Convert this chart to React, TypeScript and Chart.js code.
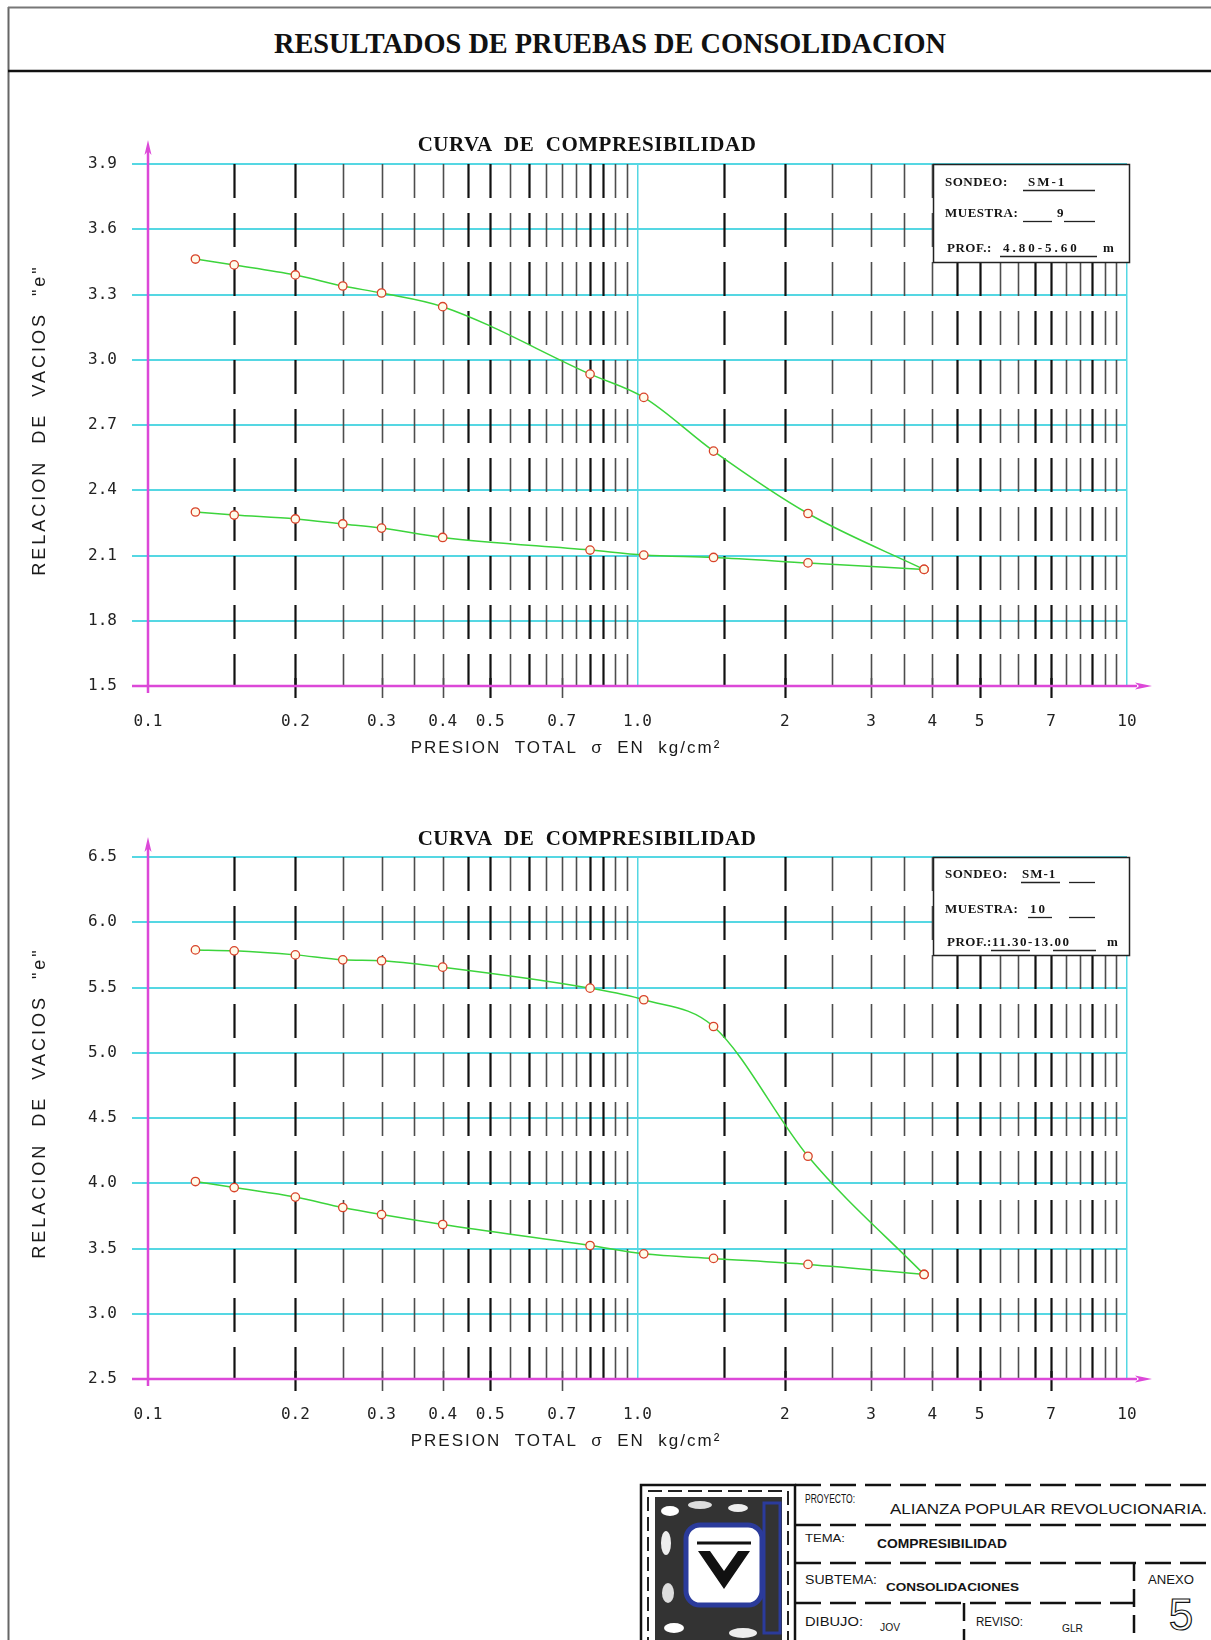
import React, { useEffect, useRef } from 'react';
import { Chart, registerables } from 'chart.js';

Chart.register(...registerables);

// ---------------- DATA ----------------
const pressures = [0.125, 0.15, 0.2, 0.25, 0.3, 0.4, 0.8, 1.03, 1.43, 2.23, 3.85];

// Muestra 9 (SM-1, 4.80-5.60 m)
const m9Loading = [3.463, 3.436, 3.39, 3.339, 3.307, 3.244, 2.934, 2.827, 2.58, 2.293, 2.036];
const m9Rebound = [2.3, 2.286, 2.268, 2.245, 2.226, 2.183, 2.125, 2.102, 2.091, 2.066, 2.036];

// Muestra 10 (SM-1, 11.30-13.00 m)
const m10Loading = [5.788, 5.781, 5.75, 5.712, 5.705, 5.656, 5.495, 5.406, 5.201, 4.207, 3.301];
const m10Rebound = [4.013, 3.967, 3.894, 3.814, 3.76, 3.684, 3.523, 3.459, 3.424, 3.378, 3.301];

const xTickValues = [0.1, 0.2, 0.3, 0.4, 0.5, 0.7, 1, 2, 3, 4, 5, 7, 10];
const xTickLabels = ['0.1', '0.2', '0.3', '0.4', '0.5', '0.7', '1.0', '2', '3', '4', '5', '7', '10'];

const topYTicks = [1.5, 1.8, 2.1, 2.4, 2.7, 3.0, 3.3, 3.6, 3.9];
const topYLabels = ['1.5', '1.8', '2.1', '2.4', '2.7', '3.0', '3.3', '3.6', '3.9'];
const bottomYTicks = [2.5, 3.0, 3.5, 4.0, 4.5, 5.0, 5.5, 6.0, 6.5];
const bottomYLabels = ['2.5', '3.0', '3.5', '4.0', '4.5', '5.0', '5.5', '6.0', '6.5'];

const gridPressures = [
  0.15, 0.2, 0.25, 0.3, 0.35, 0.4, 0.45, 0.5, 0.55, 0.6, 0.65, 0.7, 0.75, 0.8, 0.85, 0.9, 0.95,
  1.5, 2, 2.5, 3, 3.5, 4, 4.5, 5, 5.5, 6, 6.5, 7, 7.5, 8, 8.5, 9, 9.5,
];
const heavyGridPressures = [0.15, 0.2, 0.45, 0.5, 0.6, 0.8, 0.85, 1.5, 2, 4.5, 5, 6.5, 7, 8.5];

const pageTitle = 'RESULTADOS DE PRUEBAS DE CONSOLIDACION';
const chartTitle = 'CURVA  DE  COMPRESIBILIDAD';
const xTitle = 'PRESION  TOTAL  \u03c3  EN  kg/cm\u00b2';
const yTitle = 'RELACION  DE  VACIOS  "e"';

// ---------------- STYLE ----------------
const CYAN = '#55d7e3';
const MAGENTA = '#dc48d8';
const GREEN = '#3cd43c';
const MARKER = '#d8432a';

type Seg = { t: string; x: number; spacing?: number };
type BoxRow = { y: number; segs: Seg[]; lines: number[][] };

const topBoxRows: BoxRow[] = [
  { y: 19, segs: [{ t: 'SONDEO:', x: 12 }, { t: 'SM-1', x: 95, spacing: 2 }], lines: [[90, 162]] },
  { y: 50, segs: [{ t: 'MUESTRA:', x: 12 }, { t: '9', x: 124 }], lines: [[90, 119], [131, 162]] },
  { y: 85, segs: [{ t: 'PROF.:', x: 14 }, { t: '4.80-5.60', x: 70, spacing: 3 }, { t: 'm', x: 170 }], lines: [[67, 164]] },
];
const bottomBoxRows: BoxRow[] = [
  { y: 18, segs: [{ t: 'SONDEO:', x: 12 }, { t: 'SM-1', x: 89, spacing: 1 }], lines: [[88, 127], [136, 162]] },
  { y: 53, segs: [{ t: 'MUESTRA:', x: 12 }, { t: '10', x: 97, spacing: 2 }], lines: [[95, 119], [136, 162]] },
  { y: 86, segs: [{ t: 'PROF.:', x: 14 }, { t: '11.30-13.00', x: 59, spacing: 1.5 }, { t: 'm', x: 174 }], lines: [[58, 97], [120, 163]] },
];

type Spec = {
  loading: number[];
  rebound: number[];
  yTicks: number[];
  yLabels: string[];
  yTitleOffset: number;
  titleOffset: number;
  boxRows: BoxRow[];
  boxHeight: number;
  arrowTop: number;
};

const topSpec: Spec = {
  loading: m9Loading, rebound: m9Rebound, yTicks: topYTicks, yLabels: topYLabels,
  yTitleOffset: 256, titleOffset: 18, boxRows: topBoxRows, boxHeight: 98, arrowTop: 24,
};
const bottomSpec: Spec = {
  loading: m10Loading, rebound: m10Rebound, yTicks: bottomYTicks, yLabels: bottomYLabels,
  yTitleOffset: 246, titleOffset: 17, boxRows: bottomBoxRows, boxHeight: 98, arrowTop: 20,
};

function makeOverlay(spec: Spec) {
  return {
    id: 'drawingOverlay',
    beforeDatasetsDraw(chart: any) {
      const { ctx, chartArea: a } = chart;
      const x = chart.scales.x;
      ctx.save();
      gridPressures.forEach((v) => {
        const px = Math.round(x.getPixelForValue(v)) + 0.5;
        const heavy = heavyGridPressures.includes(v);
        ctx.strokeStyle = heavy ? '#111' : '#4d4d4d';
        ctx.lineWidth = heavy ? 2.2 : 1.6;
        ctx.setLineDash([34, 15]);
        ctx.beginPath();
        ctx.moveTo(px, a.top);
        ctx.lineTo(px, a.bottom);
        ctx.stroke();
        if (xTickValues.includes(v)) {
          ctx.setLineDash([]);
          ctx.beginPath();
          ctx.moveTo(px, a.bottom - 8);
          ctx.lineTo(px, a.bottom + 12);
          ctx.stroke();
        }
      });
      ctx.restore();
    },
    afterDatasetsDraw(chart: any) {
      const { ctx, chartArea: a } = chart;
      ctx.save();
      ctx.setLineDash([]);
      // magenta axes
      ctx.strokeStyle = MAGENTA;
      ctx.fillStyle = MAGENTA;
      ctx.lineWidth = 2.5;
      ctx.beginPath();
      ctx.moveTo(a.left - 16, a.bottom);
      ctx.lineTo(a.right + 10, a.bottom);
      ctx.stroke();
      ctx.beginPath();
      ctx.moveTo(a.right + 25, a.bottom);
      ctx.lineTo(a.right + 8, a.bottom - 3.5);
      ctx.lineTo(a.right + 12, a.bottom);
      ctx.lineTo(a.right + 8, a.bottom + 3.5);
      ctx.closePath();
      ctx.fill();
      ctx.beginPath();
      ctx.moveTo(a.left, a.bottom + 7);
      ctx.lineTo(a.left, a.top - spec.arrowTop + 10);
      ctx.stroke();
      ctx.beginPath();
      ctx.moveTo(a.left, a.top - spec.arrowTop);
      ctx.lineTo(a.left - 3.5, a.top - spec.arrowTop + 15);
      ctx.lineTo(a.left, a.top - spec.arrowTop + 11);
      ctx.lineTo(a.left + 3.5, a.top - spec.arrowTop + 15);
      ctx.closePath();
      ctx.fill();

      // info box
      const bw = 196;
      const bh = spec.boxHeight;
      const bx = Math.round(a.right - 194);
      const by = Math.round(a.top);
      ctx.fillStyle = '#fff';
      ctx.fillRect(bx, by, bw, bh);
      ctx.strokeStyle = '#222';
      ctx.lineWidth = 1.5;
      ctx.strokeRect(bx + 0.5, by + 0.5, bw, bh);
      ctx.fillStyle = '#151515';
      ctx.font = 'bold 13px "Liberation Serif"';
      ctx.textAlign = 'left';
      ctx.textBaseline = 'middle';
      spec.boxRows.forEach((row) => {
        row.segs.forEach((s) => {
          (ctx as any).letterSpacing = (s.spacing ?? 0.5) + 'px';
          ctx.fillText(s.t, bx + s.x, by + row.y);
        });
        ctx.lineWidth = 1.3;
        row.lines.forEach(([x1, x2]) => {
          ctx.beginPath();
          ctx.moveTo(bx + x1, by + row.y + 7.5);
          ctx.lineTo(bx + x2, by + row.y + 7.5);
          ctx.stroke();
        });
      });
      (ctx as any).letterSpacing = '0px';
      ctx.restore();
    },
    afterDraw(chart: any) {
      const { ctx, chartArea: a } = chart;
      ctx.save();
      ctx.fillStyle = '#111';
      ctx.textAlign = 'center';
      ctx.textBaseline = 'middle';
      // chart title
      ctx.font = 'bold 21px "Liberation Serif"';
      (ctx as any).letterSpacing = '0.5px';
      ctx.fillText(chartTitle, a.left + 439, a.top - spec.titleOffset);
      // x title
      ctx.font = '17px "Liberation Sans"';
      (ctx as any).letterSpacing = '2px';
      ctx.fillStyle = '#1a1a1a';
      ctx.fillText(xTitle, a.left + 418, a.bottom + 62);
      // y title
      ctx.save();
      ctx.translate(32, a.top + spec.yTitleOffset);
      ctx.rotate(-Math.PI / 2);
      ctx.font = '18px "Liberation Sans"';
      (ctx as any).letterSpacing = '3px';
      ctx.fillText(yTitle, 0, 0);
      ctx.restore();
      (ctx as any).letterSpacing = '0px';
      ctx.restore();
    },
  };
}

function makeConfig(spec: Spec): any {
  const toPoints = (vals: number[]) => pressures.map((p, i) => ({ x: p, y: vals[i] }));
  const lineStyle = {
    borderColor: GREEN,
    borderWidth: 1.5,
    pointRadius: 4.2,
    pointBorderColor: MARKER,
    pointBackgroundColor: '#fffbea',
    pointBorderWidth: 1.3,
    cubicInterpolationMode: 'monotone',
    fill: false,
  };
  const tickFont = { family: '"DejaVu Sans Mono"', size: 16 };
  return {
    type: 'line',
    data: {
      datasets: [
        { label: 'Carga', data: toPoints(spec.loading), ...lineStyle },
        { label: 'Descarga', data: toPoints(spec.rebound), ...lineStyle },
      ],
    },
    options: {
      animation: false,
      responsive: false,
      maintainAspectRatio: false,
      events: [],
      layout: { padding: { top: 44, right: 39, left: 0, bottom: 0 } },
      plugins: {
        legend: { display: false },
        tooltip: { enabled: false },
        title: { display: false },
      },
      scales: {
        x: {
          type: 'logarithmic',
          min: 0.1,
          max: 10,
          afterBuildTicks: (s: any) => {
            s.ticks = xTickValues.map((v) => ({ value: v }));
          },
          afterFit: (s: any) => {
            s.height = 90;
          },
          ticks: {
            autoSkip: false,
            maxRotation: 0,
            minRotation: 0,
            padding: 26,
            color: '#222',
            font: tickFont,
            callback: (_v: any, i: number) => xTickLabels[i],
          },
          grid: {
            drawTicks: false,
            lineWidth: 1.5,
            color: (c: any) =>
              c.tick && (c.tick.value === 1 || c.tick.value === 10) ? CYAN : 'rgba(0,0,0,0)',
          },
          border: { display: false },
        },
        y: {
          type: 'linear',
          min: spec.yTicks[0],
          max: spec.yTicks[spec.yTicks.length - 1],
          afterBuildTicks: (s: any) => {
            s.ticks = spec.yTicks.map((v) => ({ value: v }));
          },
          afterFit: (s: any) => {
            s.width = 140;
          },
          ticks: {
            padding: 15,
            color: '#222',
            font: tickFont,
            callback: (_v: any, i: number) => spec.yLabels[i],
          },
          grid: {
            tickLength: 16,
            lineWidth: 2,
            color: (c: any) => (c.index === 0 ? 'rgba(0,0,0,0)' : CYAN),
          },
          border: { display: false },
        },
      },
    },
    plugins: [makeOverlay(spec)],
  };
}

function TitleBlock() {
  const dash = '26 9';
  return (
    <g>
      {/* logo */}
      <rect x={641} y={1485} width={154} height={170} fill="none" stroke="#111" strokeWidth={2.5} />
      <rect x={648} y={1491} width={140} height={160} fill="none" stroke="#222" strokeWidth={2} strokeDasharray="14 6" />
      <rect x={655} y={1497} width={127} height={150} fill="#333" />
      <ellipse cx={670} cy={1511} rx={9} ry={5} fill="#fff" />
      <ellipse cx={700} cy={1505} rx={12} ry={4} fill="#ddd" />
      <ellipse cx={666} cy={1543} rx={5} ry={12} fill="#eee" />
      <ellipse cx={668} cy={1593} rx={6} ry={10} fill="#ddd" />
      <ellipse cx={674} cy={1628} rx={10} ry={5} fill="#fff" />
      <ellipse cx={743} cy={1633} rx={14} ry={5} fill="#eee" />
      <ellipse cx={738} cy={1508} rx={10} ry={4} fill="#eee" />
      <rect x={686} y={1525} width={76} height={80} rx={14} fill="#fff" stroke="#2b3b9b" strokeWidth={5} />
      <line x1={697} y1={1543} x2={751} y2={1543} stroke="#111" strokeWidth={3} />
      <path d="M698 1551 L724 1589 L750 1551 L738 1551 L724 1571 L710 1551 Z" fill="#111" />
      <rect x={764} y={1503} width={16} height={130} fill="none" stroke="#2b3b9b" strokeWidth={3} />
      {/* grid lines */}
      <line x1={795} y1={1485} x2={1211} y2={1485} stroke="#111" strokeWidth={2.5} strokeDasharray={dash} />
      <line x1={795} y1={1525} x2={1211} y2={1525} stroke="#111" strokeWidth={2.5} strokeDasharray={dash} />
      <line x1={795} y1={1563} x2={1211} y2={1563} stroke="#111" strokeWidth={2.5} strokeDasharray={dash} />
      <line x1={795} y1={1603} x2={1134} y2={1603} stroke="#111" strokeWidth={2.5} strokeDasharray={dash} />
      <line x1={1134} y1={1563} x2={1134} y2={1640} stroke="#111" strokeWidth={2.5} strokeDasharray="18 8" />
      <line x1={964} y1={1603} x2={964} y2={1640} stroke="#111" strokeWidth={2.5} strokeDasharray="18 8" />
      {/* texts */}
      <g fontFamily="Liberation Sans" fill="#151515">
        <text x={805} y={1503} fontSize={12} textLength={50} lengthAdjust="spacingAndGlyphs">PROYECTO:</text>
        <text x={890} y={1514} fontSize={15} textLength={317} lengthAdjust="spacingAndGlyphs">ALIANZA POPULAR REVOLUCIONARIA.</text>
        <text x={805} y={1542} fontSize={11} textLength={40} lengthAdjust="spacingAndGlyphs">TEMA:</text>
        <text x={877} y={1548} fontSize={12} fontWeight="bold" textLength={130} lengthAdjust="spacingAndGlyphs">COMPRESIBILIDAD</text>
        <text x={805} y={1584} fontSize={12} textLength={72} lengthAdjust="spacingAndGlyphs">SUBTEMA:</text>
        <text x={886} y={1591} fontSize={11} fontWeight="bold" textLength={133} lengthAdjust="spacingAndGlyphs">CONSOLIDACIONES</text>
        <text x={805} y={1626} fontSize={12} textLength={58} lengthAdjust="spacingAndGlyphs">DIBUJO:</text>
        <text x={880} y={1631} fontSize={11} textLength={20} lengthAdjust="spacingAndGlyphs">JOV</text>
        <text x={976} y={1626} fontSize={12} textLength={47} lengthAdjust="spacingAndGlyphs">REVISO:</text>
        <text x={1062} y={1632} fontSize={11} textLength={21} lengthAdjust="spacingAndGlyphs">GLR</text>
        <text x={1148} y={1584} fontSize={13} textLength={46} lengthAdjust="spacingAndGlyphs">ANEXO</text>
        <text x={1181} y={1630} fontSize={44} textAnchor="middle" fill="none" stroke="#151515" strokeWidth={1.2}>5</text>
      </g>
    </g>
  );
}

export default function App() {
  const ref1 = useRef<HTMLCanvasElement>(null);
  const ref2 = useRef<HTMLCanvasElement>(null);

  useEffect(() => {
    const c1 = new Chart(ref1.current as HTMLCanvasElement, makeConfig(topSpec));
    const c2 = new Chart(ref2.current as HTMLCanvasElement, makeConfig(bottomSpec));
    return () => {
      c1.destroy();
      c2.destroy();
    };
  }, []);

  return (
    <div
      style={{
        position: 'absolute',
        left: 0,
        top: 0,
        width: 1211,
        height: 1640,
        overflow: 'hidden',
        background: '#fff',
      }}
    >
      <svg width={1211} height={1640} style={{ position: 'absolute', left: 0, top: 0 }}>
        <line x1={8.5} y1={7} x2={8.5} y2={1640} stroke="#666" strokeWidth={2} />
        <line x1={8} y1={7.5} x2={1211} y2={7.5} stroke="#777" strokeWidth={2} />
        <line x1={8} y1={71} x2={1211} y2={71} stroke="#111" strokeWidth={2.5} />
        <text
          x={610}
          y={53}
          textAnchor="middle"
          fontFamily="Liberation Serif"
          fontWeight="bold"
          fontSize={30}
          fill="#111"
          textLength={672}
          lengthAdjust="spacingAndGlyphs"
        >
          {pageTitle}
        </text>
        <TitleBlock />
      </svg>
      <canvas
        ref={ref1}
        width={1158}
        height={656}
        style={{ position: 'absolute', left: 8, top: 120, width: 1158, height: 656 }}
      />
      <canvas
        ref={ref2}
        width={1158}
        height={656}
        style={{ position: 'absolute', left: 8, top: 813, width: 1158, height: 656 }}
      />
    </div>
  );
}
